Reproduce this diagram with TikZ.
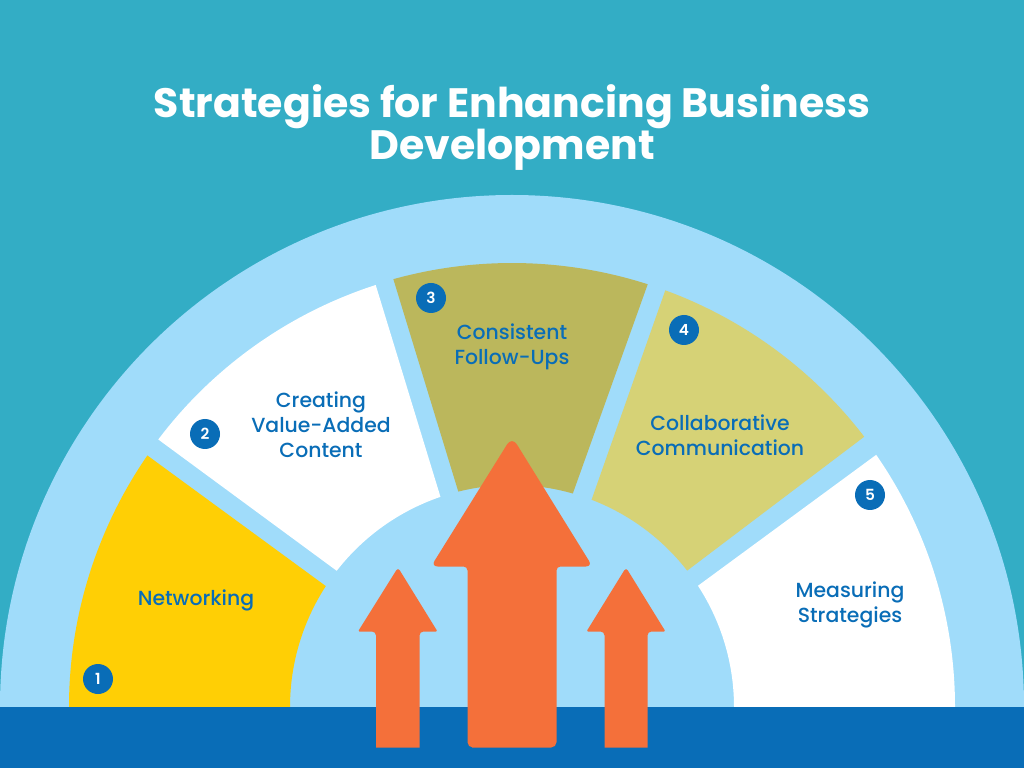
\documentclass[tikz,border=0pt]{standalone}
\usepackage{fontspec}
\setmainfont{Poppins}
\newfontfamily\medfont[BoldFont={Poppins SemiBold}]{Poppins Medium}
\definecolor{bgteal}{HTML}{33ADC5}
\definecolor{lightblue}{HTML}{A0DCFA}
\definecolor{deepblue}{HTML}{096DB7}
\definecolor{sunyellow}{HTML}{FFCF05}
\definecolor{olive}{HTML}{BBB75C}
\definecolor{khaki}{HTML}{D6D276}
\definecolor{arroworange}{HTML}{F4703A}
\tikzset{
  arrowshape/.style={fill=arroworange,draw=none},
  badge/.style={circle,fill=deepblue,text=white,minimum size=22.5pt,inner sep=0pt,font=\medfont\bfseries\fontsize{11.5}{12}\selectfont},
  lbl/.style={text=deepblue,align=center,inner sep=0pt,font=\medfont\fontsize{15.3}{18.75}\selectfont},
  ttl/.style={text=white,align=center,inner sep=0pt,font=\fontsize{30.8}{31.5}\selectfont\bfseries}
}
\begin{document}
\begin{tikzpicture}[x=0.75pt,y=0.75pt]
\useasboundingbox (0,0) rectangle (1024,768);
\fill[bgteal] (0,0) rectangle (1024,768);
\begin{scope}[shift={(512,61)}]
  \fill[lightblue] (-512,0) arc[start angle=180,end angle=0,radius=512] -- cycle;
  \fill[sunyellow] (180:443) arc[start angle=180,end angle=145.4,radius=443] -- (147:222) arc[start angle=147,end angle=180,radius=222] -- cycle;
  \fill[white] (142.9:443.5) arc[start angle=142.9,end angle=107.9,radius=443.5] -- (108.8:222) arc[start angle=108.8,end angle=142.15,radius=222] -- cycle;
  \fill[olive] (105.5:444) arc[start angle=105.5,end angle=72.2,radius=444] -- (74.1:222) arc[start angle=74.1,end angle=104,radius=222] -- cycle;
  \fill[khaki] (69.8:444) arc[start angle=69.8,end angle=37.5,radius=444] -- (37.9:222) arc[start angle=37.9,end angle=69,radius=222] -- cycle;
  \fill[white] (34.7:443) arc[start angle=34.7,end angle=0,radius=443] -- (0:222) arc[start angle=0,end angle=33.1,radius=222] -- cycle;
\end{scope}
\fill[deepblue] (0,0) rectangle (1024,61.5);
% arrows
\fill[arrowshape] (472,20.5) [rounded corners=4] -- (467.5,20.5) [rounded corners=3] -- (467.5,201.5) [rounded corners=5] -- (431,201.5) [rounded corners=7] -- (512,331.5) [rounded corners=5] -- (592.5,201.5) [rounded corners=3] -- (556.5,201.5) [rounded corners=4] -- (556.5,20.5) [sharp corners] -- cycle;
\fill[arrowshape] (376,20.5) [rounded corners=3] -- (376,136.5) [rounded corners=1] -- (358,136.5) [rounded corners=2.5] -- (398,200.5) [rounded corners=1] -- (437.5,136.5) [rounded corners=3] -- (419.5,136.5) [sharp corners] -- (419.5,20.5) -- cycle;
\fill[arrowshape] (604.5,20.5) [rounded corners=3] -- (604.5,136.5) [rounded corners=1] -- (586.5,136.5) [rounded corners=2.5] -- (626,200.5) [rounded corners=1] -- (665.5,136.5) [rounded corners=3] -- (647.5,136.5) [sharp corners] -- (647.5,20.5) -- cycle;
% title
\node[ttl] (title) at (512,640.5) {Strategies for Enhancing Business\\Development};
% labels
\node[lbl] (l1) at (196,168) {Networking};
\node[lbl] (l2) at (321,343) {Creating\\Value-Added\\Content};
\node[lbl] (l3) at (512,421.5) {Consistent\\Follow-Ups};
\node[lbl] (l4) at (720,332.5) {Collaborative\\Communication};
\node[lbl] (l5) at (850,163.5) {Measuring\\Strategies};
% badges
\node[badge] (b1) at (98,89) {1};
\node[badge] (b2) at (205,334) {2};
\node[badge] (b3) at (431,470) {3};
\node[badge] (b4) at (684,438) {4};
\node[badge] (b5) at (870,273) {5};
\end{tikzpicture}
\end{document}
